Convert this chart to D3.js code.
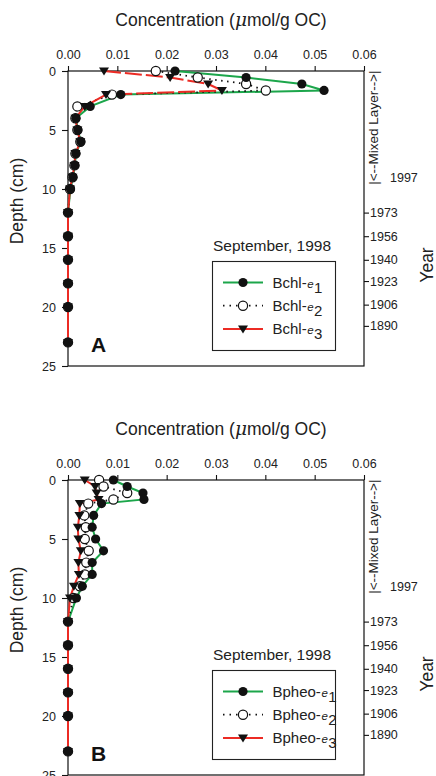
<!DOCTYPE html>
<html><head><meta charset="utf-8">
<script src="https://cdn.jsdelivr.net/npm/d3@7"></script>
<style>
body{margin:0;background:#fff;}
svg{display:block;font-family:"Liberation Sans",Arial,Helvetica,sans-serif;}
</style></head>
<body>
<svg id="c" width="436" height="776"></svg>
<script>
// ---------- data ----------
const depths = [0, 0.55, 1.1, 1.65, 2, 3, 4, 5, 6, 7, 8, 9, 10, 12, 14, 16, 18, 20, 23];
const bchlE1 = [0.0217, 0.0361, 0.0474, 0.0519, 0.0107, 0.0045, 0.0016, 0.0020, 0.0026, 0.0016, 0.0014, 0.0010, 0.0005, 0, 0, 0, 0, 0, 0];
const bchlE2 = [0.0178, 0.0263, 0.0361, 0.0401, 0.0089, 0.0019, 0.0015, 0.0019, 0.0025, 0.0015, 0.0013, 0.0009, 0.0004, 0, 0, 0, 0, 0, 0];
const bchlE3 = [0.0073, 0.0207, 0.0284, 0.0312, 0.0077, 0.0034, 0.0015, 0.0019, 0.0025, 0.0015, 0.0013, 0.0009, 0.0004, 0, 0, 0, 0, 0, 0];
const bpheoE1 = [0.0092, 0.0120, 0.0152, 0.0154, 0.0068, 0.0052, 0.0049, 0.0056, 0.0072, 0.0049, 0.0049, 0.0029, 0.0017, 0, 0, 0, 0, 0, 0];
const bpheoE2 = [0.0063, 0.0072, 0.0120, 0.0092, 0.0041, 0.0033, 0.0036, 0.0034, 0.0042, 0.0037, 0.0034, 0.0024, 0.0011, 0, 0, 0, 0, 0, 0];
const bpheoE3 = [0.0034, 0.0055, 0.0058, 0.0062, 0.0024, 0.0023, 0.0020, 0.0021, 0.0026, 0.0021, 0.0022, 0.0012, 0.0004, 0, 0, 0, 0, 0, 0];
const concTicks = [0, 0.01, 0.02, 0.03, 0.04, 0.05, 0.06];
const depthTicks = [0, 5, 10, 15, 20, 25];
const yearLabels = ["1973", "1956", "1940", "1923", "1906", "1890"];
const yearDepths = [12, 14, 16, 17.8, 19.8, 21.6];
const mixedYear = {label: "1997", depth: 9};
const mixedDepth = 9.6;

const GREEN = "#1ca64b", RED = "#ec2b24";
const svg = d3.select("#c");
const x = d3.scaleLinear().domain([0, 0.06]).range([68, 364]);

function panel(top, prefix, letter, s1, s2, s3) {
  const y = d3.scaleLinear().domain([0, 25]).range([top, top + 295]);
  const g = svg.append("g");
  // title
  const t = g.append("text").attr("x", 221).attr("y", top - 45).attr("text-anchor", "middle")
    .attr("font-size", 17.5).attr("fill", "#222");
  t.append("tspan").text("Concentration (");
  t.append("tspan").attr("font-style", "italic").attr("font-family", "'DejaVu Serif',serif").attr("font-size", 18.5).text("μ");
  t.append("tspan").text("mol/g OC)");
  // frame
  g.append("rect").attr("x", x(0)).attr("y", y(0)).attr("width", x(0.06) - x(0)).attr("height", y(25) - y(0))
    .attr("fill", "none").attr("stroke", "#111").attr("stroke-width", 1.2);
  // axes
  const ax = g.append("g").attr("transform", `translate(0,${y(0)})`)
    .call(d3.axisTop(x).tickValues(concTicks).tickSize(5).tickPadding(7).tickFormat(d3.format(".2f")));
  const ay = g.append("g").attr("transform", `translate(${x(0)},0)`)
    .call(d3.axisLeft(y).tickValues(depthTicks).tickSize(6).tickPadding(6));
  const ar = g.append("g").attr("transform", `translate(${x(0.06)},0)`)
    .call(d3.axisRight(y).tickValues(yearDepths).tickSize(5).tickPadding(1).tickFormat((d, i) => yearLabels[i]));
  [ax, ay, ar].forEach(a => {
    a.select(".domain").remove();
    a.selectAll("line").attr("stroke", "#111").attr("stroke-width", 1.1);
    a.selectAll("text").attr("font-size", 12.5).attr("fill", "#222").attr("font-family", "'Liberation Sans',Arial,sans-serif");
  });
  // mixed layer text
  g.append("text").attr("transform", `translate(378,${(y(0) + y(mixedDepth)) / 2}) rotate(-90)`)
    .attr("text-anchor", "middle").attr("font-size", 13.5).attr("fill", "#222").text("|<--Mixed Layer-->|");
  g.append("text").attr("x", 390).attr("y", y(mixedYear.depth) + 4.5).attr("font-size", 12.5).attr("fill", "#222").text(mixedYear.label);
  // axis titles
  g.append("text").attr("transform", `translate(23,${top + 130}) rotate(-90)`).attr("text-anchor", "middle")
    .attr("font-size", 17.5).attr("fill", "#222").text("Depth (cm)");
  g.append("text").attr("transform", `translate(433,${top + 194}) rotate(-90)`).attr("text-anchor", "middle")
    .attr("font-size", 17.5).attr("fill", "#222").text("Year");
  // panel letter
  g.append("text").attr("x", 91).attr("y", top + 281).attr("font-size", 21).attr("font-weight", "bold").attr("fill", "#111").text(letter);

  const pts = arr => arr.map((v, i) => [x(v), y(depths[i])]);
  const line = d3.line();
  // lines
  g.append("path").attr("d", line(pts(s1))).attr("fill", "none").attr("stroke", GREEN).attr("stroke-width", 2);
  g.append("path").attr("d", line(pts(s2))).attr("fill", "none").attr("stroke", "#111").attr("stroke-width", 1.8).attr("stroke-dasharray", "1.5,4.5");
  const p3 = pts(s3);
  g.append("path").attr("d", line(p3.slice(0, 5))).attr("fill", "none").attr("stroke", RED).attr("stroke-width", 2).attr("stroke-dasharray", "17,4");
  g.append("path").attr("d", line(p3.slice(4))).attr("fill", "none").attr("stroke", RED).attr("stroke-width", 2);
  // markers
  const tri = "M-5,-3.5L5,-3.5L0,4.5Z";
  g.append("g").selectAll("circle").data(pts(s2)).join("circle")
    .attr("cx", d => d[0]).attr("cy", d => d[1]).attr("r", 4.6).attr("fill", "#fff").attr("stroke", "#111").attr("stroke-width", 1.2);
  g.append("g").selectAll("path").data(p3).join("path")
    .attr("transform", d => `translate(${d[0]},${d[1]})`).attr("d", tri).attr("fill", "#111");
  g.append("g").selectAll("circle").data(pts(s1)).join("circle")
    .attr("cx", d => d[0]).attr("cy", d => d[1]).attr("r", 4.6).attr("fill", "#111");

  // legend
  g.append("text").attr("x", 213).attr("y", top + 180).attr("font-size", 15.5).attr("fill", "#222").text("September, 1998");
  g.append("rect").attr("x", 212.5).attr("y", top + 190.5).attr("width", 123).attr("height", 89)
    .attr("fill", "#fff").attr("stroke", "#222").attr("stroke-width", 1.1);
  const rows = [
    {sub: "1", color: GREEN, dash: null, mark: "fill"},
    {sub: "2", color: "#111", dash: "1.5,5", mark: "open"},
    {sub: "3", color: RED, dash: null, mark: "tri"}
  ];
  rows.forEach((r, i) => {
    const ly = top + 211.5 + i * 23.2;
    g.append("line").attr("x1", 223).attr("x2", 263).attr("y1", ly).attr("y2", ly)
      .attr("stroke", r.color).attr("stroke-width", r.dash ? 1.8 : 2).attr("stroke-dasharray", r.dash);
    if (r.mark === "fill") g.append("circle").attr("cx", 243).attr("cy", ly).attr("r", 4.6).attr("fill", "#111");
    if (r.mark === "open") g.append("circle").attr("cx", 243).attr("cy", ly).attr("r", 4.6).attr("fill", "#fff").attr("stroke", "#111").attr("stroke-width", 1.2);
    if (r.mark === "tri") g.append("path").attr("transform", `translate(243,${ly})`).attr("d", tri).attr("fill", "#111");
    const tx = g.append("text").attr("x", 272.5).attr("y", ly + 5.5).attr("font-size", 15).attr("fill", "#222");
    tx.append("tspan").text(prefix + "-");
    tx.append("tspan").attr("font-style", "italic").attr("font-size", 11.5).attr("dx", 0.5).text("e");
    tx.append("tspan").attr("dy", 5).attr("dx", 0.5).text(r.sub);
  });
}

panel(71, "Bchl", "A", bchlE1, bchlE2, bchlE3);
panel(480, "Bpheo", "B", bpheoE1, bpheoE2, bpheoE3);
</script>
</body></html>
